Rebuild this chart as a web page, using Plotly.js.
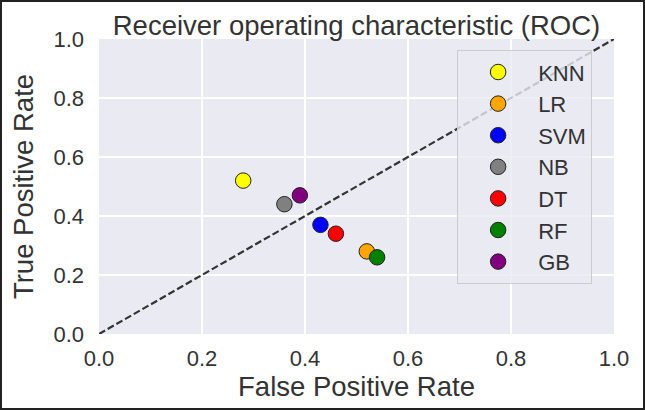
<!DOCTYPE html>
<html>
<head>
<meta charset="utf-8">
<script src="https://cdn.plot.ly/plotly-3.0.1.min.js"></script>
<style>
  html, body { margin: 0; padding: 0; background: #ffffff; }
  #chart { width: 641px; height: 406px; border: 2px solid #222222; }
</style>
</head>
<body>
<div id="chart"></div>
<script>
// Data
const models = ["KNN", "LR", "SVM", "NB", "DT", "RF", "GB"];
const fpr = [0.28, 0.52, 0.43, 0.36, 0.46, 0.54, 0.39];
const tpr = [0.52, 0.28, 0.37, 0.44, 0.34, 0.26, 0.47];
const colors = ["yellow", "orange", "blue", "gray", "red", "green", "purple"];
const diagX = [0, 1];
const diagY = [0, 1];
const tickVals = [0, 0.2, 0.4, 0.6, 0.8, 1.0];
const tickText = ["0.0", "0.2", "0.4", "0.6", "0.8", "1.0"];

const FONT = "Liberation Sans, Arial, Helvetica, sans-serif";
const TXT = "#333333";

const traces = [{
  x: diagX, y: diagY, mode: "lines", showlegend: false, hoverinfo: "skip",
  line: { color: "#333333", width: 2.2, dash: "7px,3px" }
}];
models.forEach((m, i) => {
  traces.push({
    x: [fpr[i]], y: [tpr[i]], name: m, mode: "markers", type: "scatter",
    marker: { color: colors[i], size: 15.5, line: { color: "#222222", width: 1 } }
  });
});

const axisCommon = {
  range: [0, 1], tickvals: tickVals, ticktext: tickText,
  showgrid: true, gridcolor: "#ffffff", gridwidth: 1.5,
  zeroline: false, showline: false, ticks: "",
  tickfont: { family: FONT, size: 22, color: TXT },
  fixedrange: true
};

const layout = {
  width: 641, height: 406,
  margin: { l: 96.5, r: 29, t: 37, b: 74 },
  paper_bgcolor: "#ffffff", plot_bgcolor: "#eaeaf2",
  title: {
    text: "Receiver operating characteristic (ROC)",
    font: { family: FONT, size: 27.5, color: TXT },
    x: 0.5, xref: "paper", xanchor: "center",
    y: 1, yref: "paper", yanchor: "bottom", pad: { b: 4 }
  },
  xaxis: Object.assign({}, axisCommon, {
    ticklabelstandoff: 9,
    title: { text: "False Positive Rate", font: { family: FONT, size: 27.5, color: TXT }, standoff: 1 }
  }),
  yaxis: Object.assign({}, axisCommon, {
    ticklabelstandoff: 14,
    title: { text: "True Positive Rate", font: { family: FONT, size: 27.5, color: TXT }, standoff: 11 }
  }),
  legend: {
    x: 0.6954, xanchor: "left", y: 0.962, yanchor: "top",
    bgcolor: "rgba(234,234,242,0.8)", bordercolor: "#cccccc", borderwidth: 1,
    font: { family: FONT, size: 22, color: TXT },
    itemwidth: 70,
    entrywidth: 140, entrywidthmode: "pixels"
  },
  showlegend: true
};

Plotly.newPlot("chart", traces, layout, { displayModeBar: false, staticPlot: true });
</script>
</body>
</html>
